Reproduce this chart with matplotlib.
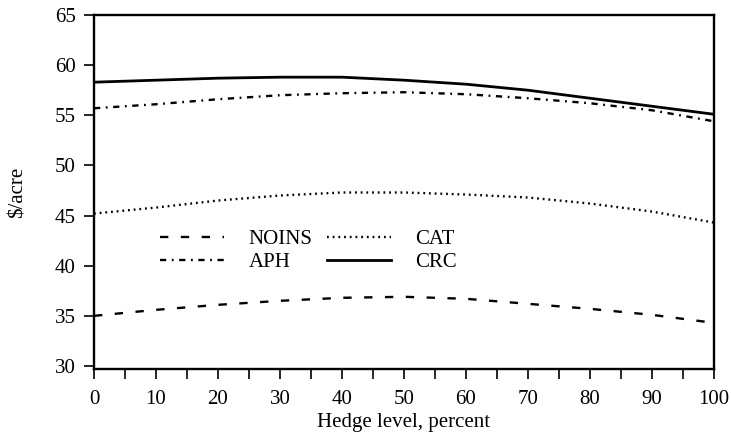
import matplotlib
matplotlib.use("Agg")
import matplotlib.pyplot as plt
from matplotlib.ticker import MultipleLocator

plt.rcParams['font.family'] = ['Liberation Serif', 'DejaVu Serif']
plt.rcParams['lines.scale_dashes'] = False

hedge = [0, 10, 20, 30, 40, 50, 60, 70, 80, 90, 100]
noins = [35.0, 35.6, 36.1, 36.5, 36.8, 36.9, 36.7, 36.2, 35.7, 35.1, 34.3]
cat = [45.2, 45.8, 46.5, 47.0, 47.3, 47.3, 47.1, 46.8, 46.2, 45.4, 44.3]
aph = [55.7, 56.1, 56.6, 57.0, 57.2, 57.3, 57.1, 56.7, 56.2, 55.5, 54.4]
crc = [58.3, 58.5, 58.7, 58.8, 58.8, 58.5, 58.1, 57.5, 56.7, 55.9, 55.1]

fig = plt.figure(figsize=(7.31, 4.41), dpi=100)
ax = fig.add_axes([94/731, 1-369/441, 620/731, 354/441])

l_noins, = ax.plot(hedge, noins, color='black', lw=1.7, linestyle=(0, (6, 9)), label='NOINS')
l_cat, = ax.plot(hedge, cat, color='black', lw=1.7, linestyle=(0, (1.3, 2.8)), label='CAT')
l_aph, = ax.plot(hedge, aph, color='black', lw=1.7, linestyle=(0, (4.5, 4, 1.3, 4)), label='APH')
l_crc, = ax.plot(hedge, crc, color='black', lw=2.0, linestyle='-', label='CRC')

ax.set_xlim(0, 100)
ax.set_ylim(29.7, 65)
ax.xaxis.set_major_locator(MultipleLocator(10))
ax.xaxis.set_minor_locator(MultipleLocator(5))
ax.yaxis.set_major_locator(MultipleLocator(5))
ax.tick_params(axis='both', which='both', direction='out', length=7, width=1.2,
               labelsize=15, colors='black')
ax.tick_params(axis='x', which='both', pad=8)
ax.tick_params(axis='y', which='both', pad=6)
for s in ax.spines.values():
    s.set_linewidth(1.7)

ax.set_xlabel('Hedge level, percent', fontsize=15, labelpad=3)
ax.set_ylabel('\\$/acre', fontsize=15, labelpad=20)

leg = ax.legend(handles=[l_noins, l_aph, l_cat, l_crc], ncol=2, frameon=False,
                loc='upper left', bbox_to_anchor=(0.076, 0.446), fontsize=15,
                handlelength=3.1, handletextpad=1.15, columnspacing=0.7,
                labelspacing=0.15)

fig.savefig('out.png', dpi=100)
